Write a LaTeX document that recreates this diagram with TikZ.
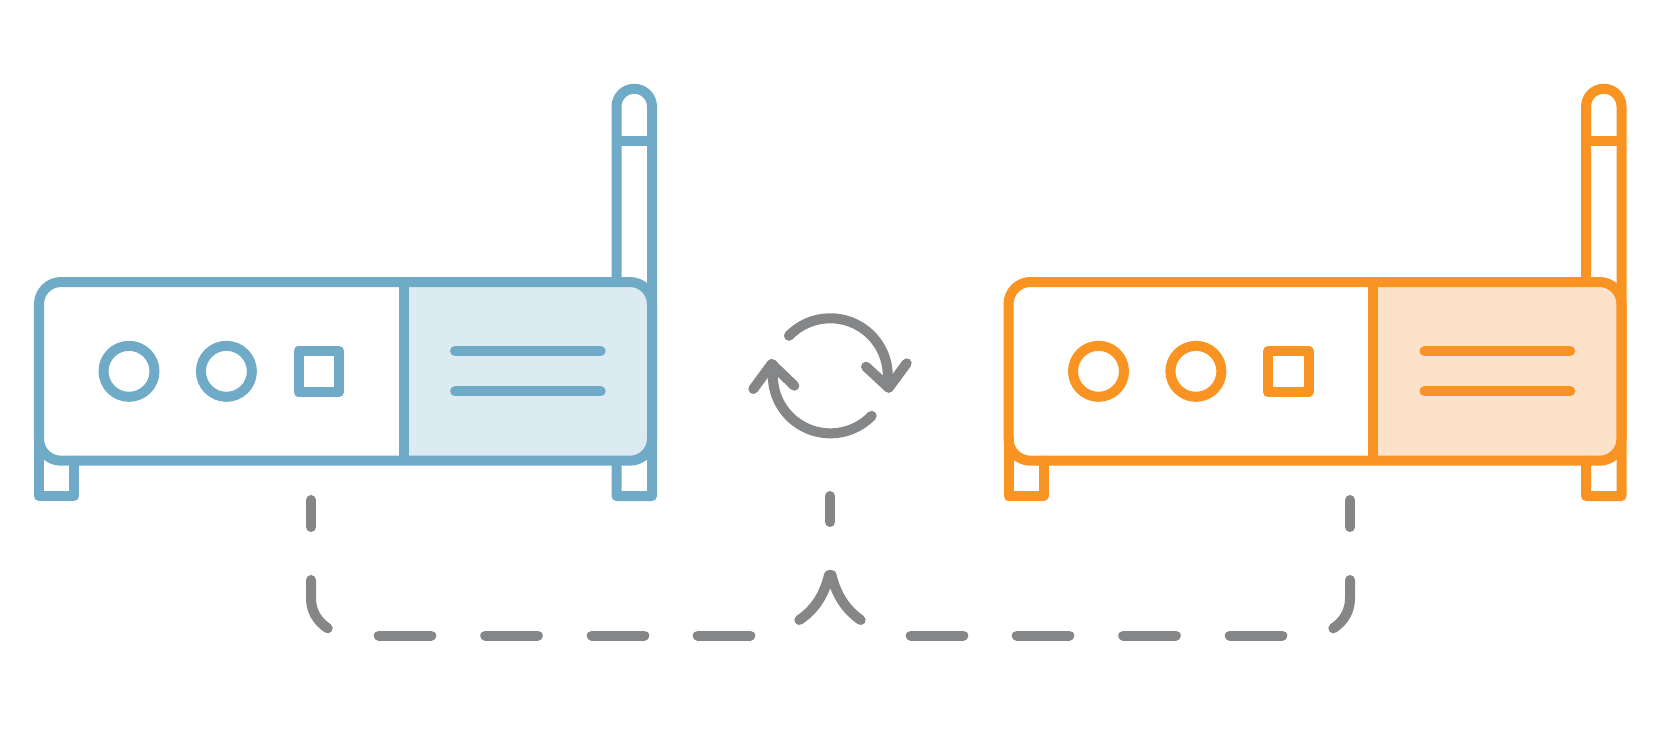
\documentclass[tikz,border=0pt]{standalone}
\definecolor{rblue}{HTML}{6FABC7}
\definecolor{rbluefill}{HTML}{DCEAF1}
\definecolor{rorange}{HTML}{F99321}
\definecolor{rorangefill}{HTML}{FCE2C8}
\definecolor{rgray}{HTML}{848688}
\tikzset{
  ink/.style={line width=0.1cm,line cap=round,line join=round},
  grayink/.style={ink,draw=rgray},
}
\newcommand{\routerdraw}[3]{%
  \begin{scope}[shift={(#1,0)},ink,draw=#2]
    % shaded panel
    \fill[#3] (403.7,282) -- (630,282) arc (-90:0:22) -- (652,438.7) arc (0:90:22) -- (403.7,460.7) -- cycle;
    % antenna
    \draw (616.5,282) -- (616.5,106.5) arc (180:360:17.75) -- (652,496) -- (616.5,496) -- (616.5,460.7);
    \draw[line cap=butt] (616.5,141) -- (652,141);
    % left foot
    \draw (39,438) -- (39,496) -- (74,496) -- (74,460.7);
    % body
    \draw (61,282) -- (630,282) arc (-90:0:22) -- (652,438.7) arc (0:90:22) -- (61,460.7) arc (90:180:22) -- (39,304) arc (180:270:22) -- cycle;
    \draw[line cap=butt] (403.7,282) -- (403.7,460.7);
    % controls
    \draw (129,371.3) circle[radius=25.5];
    \draw (226.4,371.3) circle[radius=25.5];
    \draw (298.5,351) rectangle (339,392);
    \draw (455,351) -- (600.7,351);
    \draw (455,391.3) -- (600.7,391.3);
  \end{scope}
}
\begin{document}
\begin{tikzpicture}[x=0.01cm,y=0.01cm,yscale=-1]
  \useasboundingbox (0,0) rectangle (1658,729);
  \routerdraw{0}{rblue}{rbluefill}
  \routerdraw{969.5}{rorange}{rorangefill}
  % sync icon
  \draw[grayink] (788.9,335.8) arc (-136:10:57.5) -- (888.7,387.7);
  \draw[grayink] (866,366.7) -- (888.7,387.7) -- (906.7,363.3);
  \draw[grayink] (871.7,415.8) arc (44:190:57.5) -- (771.7,364);
  \draw[grayink] (753.3,389) -- (771.7,364) -- (794.3,385.7);
  % dashed link
  \draw[grayink] (311,500) -- (311,527);
  \draw[grayink] (311,580) -- (311,598) .. controls (311,611) and (317,621) .. (327.7,628.3);
  \draw[grayink] (378.7,635.5) -- (431.3,635.5);
  \draw[grayink] (485.2,635.5) -- (537.8,635.5);
  \draw[grayink] (591.7,635.5) -- (644.3,635.5);
  \draw[grayink] (697.7,635.5) -- (750.3,635.5);
  \draw[grayink] (830,496) -- (830,522);
  \draw[grayink] (799.3,620) .. controls (814,610) and (824,596) .. (829,575) -- (831.5,575) .. controls (836.5,596) and (846.5,610) .. (860.7,620);
  \draw[grayink] (910.7,635.5) -- (963.3,635.5);
  \draw[grayink] (1016.7,635.5) -- (1069.3,635.5);
  \draw[grayink] (1123.2,635.5) -- (1175.8,635.5);
  \draw[grayink] (1229.7,635.5) -- (1282.3,635.5);
  \draw[grayink] (1350,500) -- (1350,527);
  \draw[grayink] (1350,580) -- (1350,598) .. controls (1350,611) and (1344,621) .. (1333.3,628.3);
\end{tikzpicture}
\end{document}
